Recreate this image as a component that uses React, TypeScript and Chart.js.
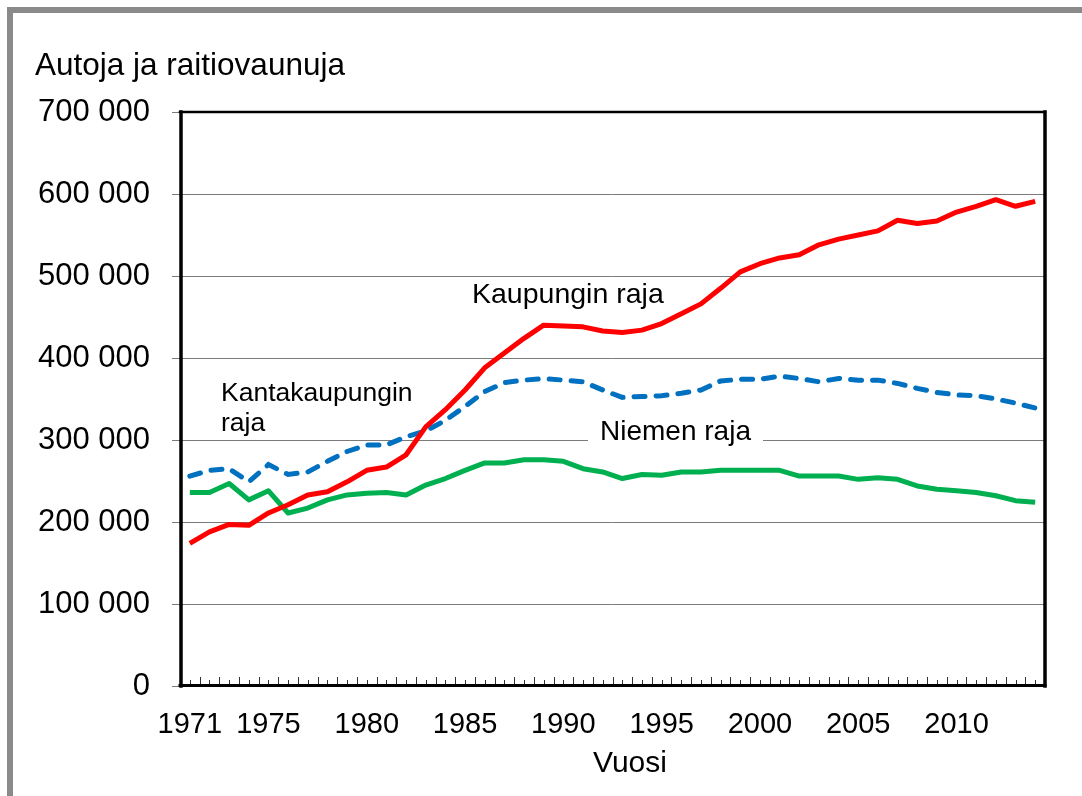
import { useEffect, useRef } from 'react';
import { Chart, registerables } from 'chart.js';

Chart.register(...registerables);

const years = [
  '1971', '1972', '1973', '1974', '1975', '1976', '1977', '1978', '1979', '1980',
  '1981', '1982', '1983', '1984', '1985', '1986', '1987', '1988', '1989', '1990',
  '1991', '1992', '1993', '1994', '1995', '1996', '1997', '1998', '1999', '2000',
  '2001', '2002', '2003', '2004', '2005', '2006', '2007', '2008', '2009', '2010',
  '2011', '2012', '2013', '2014',
];

const shownYears = ['1971', '1975', '1980', '1985', '1990', '1995', '2000', '2005', '2010'];

const kaupunginRaja = [
  174000, 188000, 197000, 196000, 211000, 221000, 233000, 237000, 249000, 263000,
  267000, 282000, 316000, 337000, 361000, 388000, 406000, 424000, 440000, 439000,
  438000, 433000, 431000, 434000, 442000, 454000, 466000, 485000, 505000, 515000,
  522000, 526000, 538000, 545000, 550000, 555000, 568000, 564000, 567000, 578000,
  585000, 593000, 585000, 591000,
];

const kantakaupunginRaja = [
  256000, 263000, 265000, 249000, 270000, 258000, 261000, 274000, 286000, 294000,
  294000, 304000, 311000, 324000, 341000, 359000, 370000, 373000, 375000, 373000,
  371000, 361000, 352000, 353000, 354000, 357000, 361000, 372000, 374000, 374000,
  378000, 375000, 371000, 375000, 373000, 373000, 369000, 363000, 358000, 355000,
  354000, 350000, 345000, 339000,
];

const niemenRaja = [
  236000, 236000, 247000, 227000, 238000, 211000, 217000, 227000, 233000, 235000,
  236000, 233000, 245000, 253000, 263000, 272000, 272000, 276000, 276000, 274000,
  265000, 261000, 253000, 258000, 257000, 261000, 261000, 263000, 263000, 263000,
  263000, 256000, 256000, 256000, 252000, 254000, 252000, 244000, 240000, 238000,
  236000, 232000, 226000, 224000,
];

const yMin = 0;
const yMax = 700000;
const yStep = 100000;

const FONT = '"Liberation Sans", Arial, Helvetica, sans-serif';

const fmt = (v: number) => String(v).replace(/\B(?=(\d{3})+(?!\d))/g, ' ');

const decor = {
  id: 'decor',
  beforeDatasetsDraw(chart: any) {
    const { ctx, chartArea: a, scales } = chart;
    const x = scales.x;
    ctx.save();

    // x-axis minor tick marks (category boundaries tall, centres short)
    ctx.strokeStyle = '#333';
    ctx.lineWidth = 1;
    for (let i = 0; i < years.length; i++) {
      const c = Math.round(x.getPixelForValue(i)) + 0.5;
      ctx.beginPath();
      ctx.moveTo(c, a.bottom);
      ctx.lineTo(c, a.bottom - 6);
      ctx.stroke();
      const b = Math.round(x.getPixelForValue(i + 0.5)) + 0.5;
      if (i < years.length - 1) {
        ctx.beginPath();
        ctx.moveTo(b, a.bottom);
        ctx.lineTo(b, a.bottom - 9);
        ctx.stroke();
      }
    }

    // annotations
    ctx.fillStyle = '#000';
    ctx.textBaseline = 'alphabetic';
    ctx.textAlign = 'left';
    ctx.font = `28.5px ${FONT}`;
    ctx.fillText('Kaupungin raja', 472, 303);
    ctx.font = `26.5px ${FONT}`;
    ctx.fillText('Kantakaupungin', 221, 401);
    ctx.fillText('raja', 221, 431);
    // Niemen raja with white backing that breaks the grid line
    ctx.font = `28px ${FONT}`;
    ctx.fillStyle = '#fff';
    ctx.fillRect(588, 418, 175, 26);
    ctx.fillStyle = '#000';
    ctx.fillText('Niemen raja', 600, 440);

    ctx.restore();
  },
  afterDraw(chart: any) {
    const { ctx, chartArea: a } = chart;
    ctx.save();
    ctx.strokeStyle = '#000';
    ctx.lineCap = 'square';
    // left
    ctx.lineWidth = 3.5;
    ctx.beginPath();
    ctx.moveTo(a.left + 1, a.top);
    ctx.lineTo(a.left + 1, a.bottom);
    ctx.stroke();
    // right
    ctx.beginPath();
    ctx.moveTo(a.right, a.top);
    ctx.lineTo(a.right, a.bottom);
    ctx.stroke();
    // bottom
    ctx.lineWidth = 3;
    ctx.beginPath();
    ctx.moveTo(a.left, a.bottom - 0.5);
    ctx.lineTo(a.right, a.bottom - 0.5);
    ctx.stroke();
    // top
    ctx.lineWidth = 2.5;
    ctx.beginPath();
    ctx.moveTo(a.left, a.top);
    ctx.lineTo(a.right, a.top);
    ctx.stroke();

    // titles
    ctx.fillStyle = '#000';
    ctx.textBaseline = 'alphabetic';
    ctx.textAlign = 'left';
    ctx.font = `31.5px ${FONT}`;
    ctx.fillText('Autoja ja raitiovaunuja', 35, 75);
    ctx.textAlign = 'center';
    ctx.font = `30px ${FONT}`;
    ctx.fillText('Vuosi', 630, 772);
    ctx.restore();
  },
};

export default function App() {
  const ref = useRef<HTMLCanvasElement | null>(null);

  useEffect(() => {
    if (!ref.current) return;
    const chart = new Chart(ref.current, {
      type: 'line',
      data: {
        labels: years,
        datasets: [
          {
            label: 'Kaupungin raja',
            data: kaupunginRaja,
            borderColor: '#ff0000',
            borderWidth: 5,
            pointRadius: 0,
            tension: 0,
            fill: false,
            borderJoinStyle: 'round',
          },
          {
            label: 'Kantakaupungin raja',
            data: kantakaupunginRaja,
            borderColor: '#0070c0',
            borderWidth: 5,
            borderDash: [11, 11],
            borderCapStyle: 'round',
            pointRadius: 0,
            tension: 0,
            fill: false,
          },
          {
            label: 'Niemen raja',
            data: niemenRaja,
            borderColor: '#00b050',
            borderWidth: 5,
            pointRadius: 0,
            tension: 0,
            fill: false,
            borderJoinStyle: 'round',
          },
        ],
      },
      options: {
        responsive: false,
        animation: false,
        events: [],
        layout: { padding: { top: 112, right: 37, bottom: 0, left: 0 } },
        plugins: {
          legend: { display: false },
          tooltip: { enabled: false },
          title: { display: false },
        },
        scales: {
          x: {
            type: 'category',
            offset: true,
            grid: { display: false },
            border: { display: false },
            ticks: {
              autoSkip: false,
              maxRotation: 0,
              minRotation: 0,
              padding: 14,
              color: '#000',
              font: { family: FONT, size: 29 },
              callback: function (this: any, _v: any, i: number) {
                const y = years[i];
                return shownYears.includes(y) ? y : '';
              },
            },
            afterFit: (s: any) => {
              s.height = 110;
            },
          },
          y: {
            min: yMin,
            max: yMax,
            grid: {
              color: '#7a7a7a',
              lineWidth: 1,
              tickLength: 8,
              drawTicks: true,
            },
            border: { display: false },
            ticks: {
              stepSize: yStep,
              padding: 22,
              color: '#000',
              font: { family: FONT, size: 31 },
              callback: (v: any) => fmt(Number(v)),
            },
            afterFit: (s: any) => {
              s.width = 180;
            },
          },
        },
      },
      plugins: [decor],
    });
    return () => chart.destroy();
  }, []);

  return (
    <div
      style={{
        position: 'absolute',
        left: 0,
        top: 0,
        width: 1082,
        height: 796,
        background: '#fff',
        overflow: 'hidden',
      }}
    >
      <div
        style={{
          position: 'absolute',
          left: 7,
          top: 7,
          right: 0,
          bottom: 0,
          borderTop: '6px solid #8a8a8a',
          borderLeft: '6px solid #8a8a8a',
        }}
      />
      <canvas
        ref={ref}
        width={1082}
        height={796}
        style={{ position: 'absolute', left: 0, top: 0, display: 'block' }}
      />
    </div>
  );
}
